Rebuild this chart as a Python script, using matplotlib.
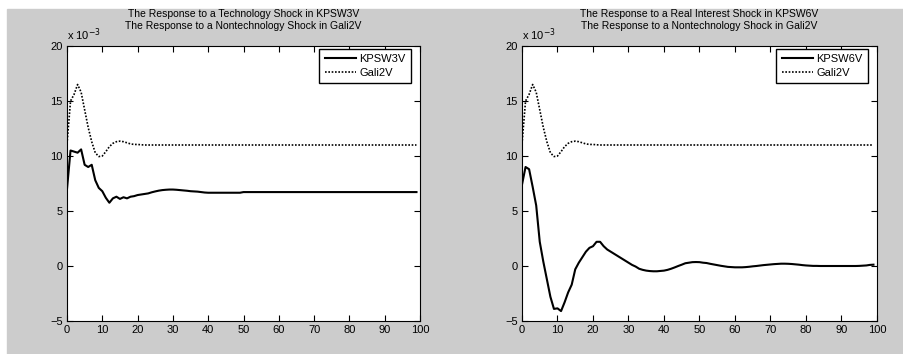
"""
Impulse responses: KPSW3V / KPSW6V against Gali2V.
"""

import matplotlib
matplotlib.use("Agg")
import matplotlib.pyplot as plt
from matplotlib.patches import Rectangle

plt.rcParams["font.family"] = ["Liberation Sans", "DejaVu Sans"]

# horizon (quarters) and responses, in units of 1e-3
horizon = list(range(100))

gali2v = [11.1, 15.0, 15.6, 16.5, 15.8, 14.2, 12.6, 11.3, 10.3, 9.95,
          10.0, 10.4, 10.85, 11.15, 11.3, 11.35, 11.3, 11.2, 11.1, 11.05,
          11.05, 11.02, 11.0, 11.0, 11.0, 11.0, 11.0, 11.0, 11.0, 11.0,
          11.0, 11.0, 11.0, 11.0, 11.0, 11.0, 11.0, 11.0, 11.0, 11.0,
          11.0, 11.0, 11.0, 11.0, 11.0, 11.0, 11.0, 11.0, 11.0, 11.0,
          11.0, 11.0, 11.0, 11.0, 11.0, 11.0, 11.0, 11.0, 11.0, 11.0,
          11.0, 11.0, 11.0, 11.0, 11.0, 11.0, 11.0, 11.0, 11.0, 11.0,
          11.0, 11.0, 11.0, 11.0, 11.0, 11.0, 11.0, 11.0, 11.0, 11.0,
          11.0, 11.0, 11.0, 11.0, 11.0, 11.0, 11.0, 11.0, 11.0, 11.0,
          11.0, 11.0, 11.0, 11.0, 11.0, 11.0, 11.0, 11.0, 11.0, 11.0]

kpsw3v = [7.0, 10.5, 10.4, 10.3, 10.6, 9.2, 9.0, 9.2, 7.8, 7.1,
          6.8, 6.2, 5.75, 6.15, 6.3, 6.1, 6.25, 6.15, 6.3, 6.35,
          6.45, 6.5, 6.55, 6.6, 6.7, 6.78, 6.85, 6.9, 6.93, 6.95,
          6.95, 6.93, 6.9, 6.87, 6.84, 6.8, 6.78, 6.76, 6.72, 6.68,
          6.66, 6.66, 6.66, 6.66, 6.66, 6.66, 6.66, 6.66, 6.66, 6.66,
          6.72, 6.72, 6.72, 6.72, 6.72, 6.72, 6.72, 6.72, 6.72, 6.72,
          6.72, 6.72, 6.72, 6.72, 6.72, 6.72, 6.72, 6.72, 6.72, 6.72,
          6.72, 6.72, 6.72, 6.72, 6.72, 6.72, 6.72, 6.72, 6.72, 6.72,
          6.72, 6.72, 6.72, 6.72, 6.72, 6.72, 6.72, 6.72, 6.72, 6.72,
          6.72, 6.72, 6.72, 6.72, 6.72, 6.72, 6.72, 6.72, 6.72, 6.72]

kpsw6v = [7.4, 9.0, 8.8, 7.2, 5.5, 2.2, 0.4, -1.2, -2.8, -3.9,
          -3.85, -4.1, -3.3, -2.4, -1.7, -0.3, 0.3, 0.8, 1.3, 1.65,
          1.8, 2.2, 2.2, 1.8, 1.5, 1.3, 1.1, 0.9, 0.7, 0.5,
          0.3, 0.1, -0.05, -0.25, -0.35, -0.42, -0.46, -0.48, -0.48, -0.45,
          -0.42, -0.35, -0.25, -0.13, 0.0, 0.12, 0.25, 0.3, 0.35, 0.36,
          0.35, 0.3, 0.27, 0.2, 0.14, 0.08, 0.02, -0.03, -0.08, -0.1,
          -0.12, -0.12, -0.12, -0.1, -0.07, -0.03, 0.0, 0.04, 0.08, 0.11,
          0.14, 0.17, 0.19, 0.21, 0.21, 0.2, 0.18, 0.15, 0.12, 0.08,
          0.05, 0.03, 0.01, 0.01, 0.0, 0.0, 0.0, 0.0, 0.0, 0.0,
          0.0, 0.0, 0.0, 0.0, 0.0, 0.01, 0.03, 0.05, 0.1, 0.12]

panels = [
    ("KPSW3V", kpsw3v,
     "The Response to a Technology Shock in KPSW3V\n"
     "The Response to a Nontechnology Shock in Gali2V"),
    ("KPSW6V", kpsw6v,
     "The Response to a Real Interest Shock in KPSW6V\n"
     "The Response to a Nontechnology Shock in Gali2V"),
]

W, H = 904, 354
fig = plt.figure(figsize=(W / 100, H / 100), dpi=100, facecolor="white")
fig.patches.append(Rectangle((7 / W, 0), (W - 7) / W, (H - 9) / H,
                             transform=fig.transFigure, color="#cccccc",
                             zorder=-10))

# axes boxes in pixels: left, top, right, bottom
boxes = [(67, 46, 420, 321), (522, 46, 877, 321)]

for (name, resp, title), (x0, y0, x1, y1) in zip(panels, boxes):
    ax = fig.add_axes([x0 / W, (H - y1) / H, (x1 - x0) / W, (y1 - y0) / H])
    ax.plot(horizon, resp, color="black", lw=1.5, label=name)
    ax.plot(horizon, gali2v, color="black", lw=1.2, ls=(0, (1, 1)),
            label="Gali2V")
    ax.set_xlim(0, 100)
    ax.set_ylim(-5, 20)
    ax.set_xticks(range(0, 101, 10))
    ax.set_yticks(range(-5, 21, 5))
    ax.tick_params(direction="in", length=4, width=0.8, top=True,
                   right=True, labelsize=8, pad=3)
    for s in ax.spines.values():
        s.set_linewidth(0.8)
    ax.set_title(title, fontsize=7.5, pad=12.5, linespacing=1.2)
    ax.text(0, 1.012, "x 10$^{-3}$", transform=ax.transAxes, fontsize=8,
            ha="left", va="bottom")
    ax.legend(loc="upper right", bbox_to_anchor=(0.975, 0.99),
              borderaxespad=0, fancybox=False, edgecolor="black",
              framealpha=1, fontsize=8, handlelength=2.8,
              handletextpad=0.3, borderpad=0.5, labelspacing=0.3)

plt.savefig("out.png", dpi=100)
plt.close()
